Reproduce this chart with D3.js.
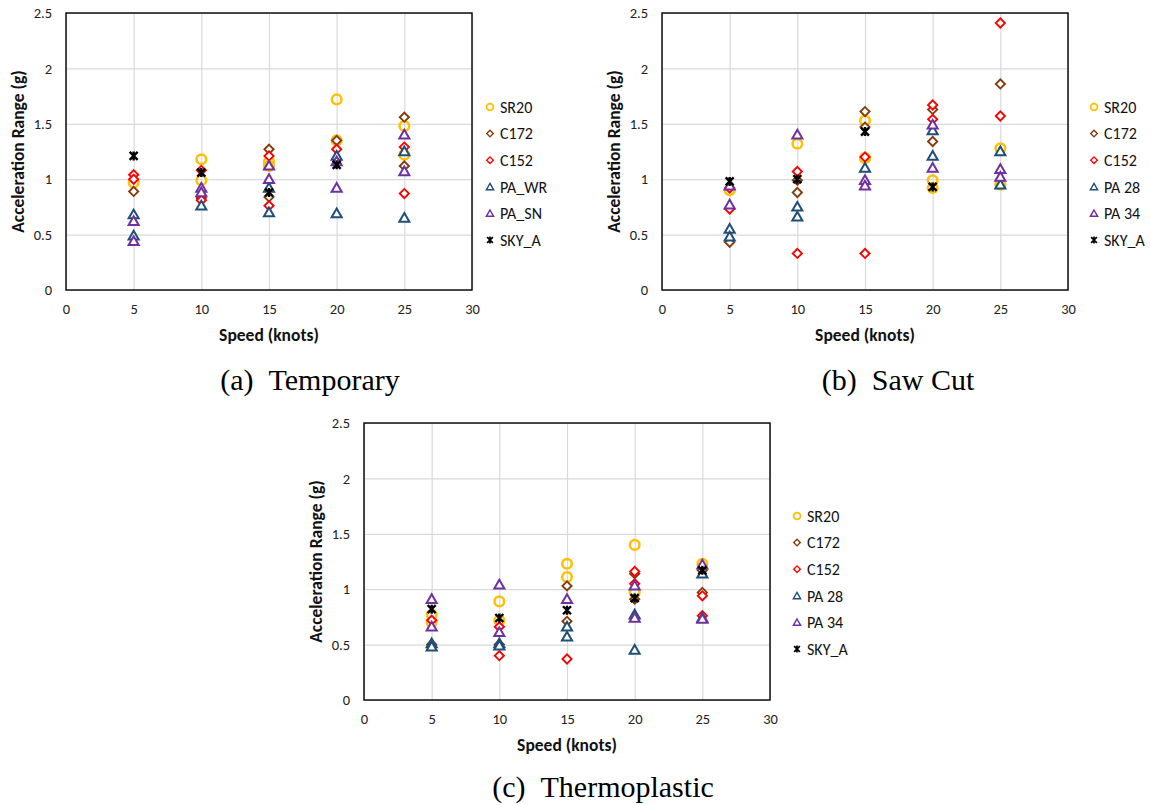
<!DOCTYPE html>
<html>
<head>
<meta charset="utf-8">
<script src="https://cdn.jsdelivr.net/npm/d3@7"></script>
<style>
  html, body { margin: 0; padding: 0; background: #fff; }
  svg { display: block; }
  .tick text { font-family: Carlito, Lato, "Open Sans", sans-serif; font-size: 14.5px; fill: #222; }
  .axis-title { font-family: Carlito, Lato, "Open Sans", sans-serif; font-size: 17.5px; font-weight: bold; fill: #111; }
  .legend text { font-family: Carlito, Lato, "Open Sans", sans-serif; font-size: 16px; fill: #111; }
  .caption { font-family: "Liberation Serif", "Times New Roman", serif; font-size: 30px; fill: #000; }
</style>
</head>
<body>
<svg id="chart" width="1150" height="805"></svg>
<script>
// Speeds tested (knots)
const speeds = [5, 10, 15, 20, 25];
const xTicks = [0, 5, 10, 15, 20, 25, 30];
const yTicks = [0, 0.5, 1, 1.5, 2, 2.5];

// Legend names
const seriesNamesTemporary = ["SR20", "C172", "C152", "PA_WR", "PA_SN", "SKY_A"];
const seriesNamesOther = ["SR20", "C172", "C152", "PA 28", "PA 34", "SKY_A"];

// Acceleration range (g), one list of runs per speed
// (a) Temporary marking
const tempSR20  = [[0.97], [1.18, 0.99], [1.16, 1.12], [1.72, 1.35], [1.48, 1.22]];
const tempC172  = [[0.89], [0.83], [1.27, 0.84], [1.35], [1.56, 1.12]];
const tempC152  = [[1.04, 1.00], [1.08, 0.81], [1.21, 0.76], [1.27], [1.29, 0.87]];
const tempPAWR  = [[0.68, 0.49], [0.76], [0.92, 0.70], [1.21, 0.69], [1.25, 0.65]];
const tempPASN  = [[0.62, 0.44], [0.92, 0.88], [1.12, 1.00], [1.16, 0.92], [1.40, 1.07]];
const tempSKYA  = [[1.21], [1.06], [0.88], [1.13], []];

// (b) Saw cut
const sawSR20   = [[0.90], [1.32], [1.53, 1.19], [0.99, 0.92], [1.28, 0.95]];
const sawC172   = [[0.43], [0.99, 0.88], [1.61, 1.47], [1.63, 1.34], [1.86]];
const sawC152   = [[0.92, 0.73], [1.07, 0.33], [1.20, 0.33], [1.67, 1.54], [2.41, 1.57]];
const sawPA28   = [[0.55, 0.48], [0.75, 0.66], [1.10], [1.44, 1.21], [1.25, 0.95]];
const sawPA34   = [[0.94, 0.77], [1.40], [0.99, 0.94], [1.49, 1.10], [1.09, 1.02]];
const sawSKYA   = [[0.98], [1.00], [1.43], [0.93], []];

// (c) Thermoplastic
const thermoSR20 = [[0.77, 0.70], [0.89, 0.72], [1.23, 1.11], [1.40, 0.97], [1.23]];
const thermoC172 = [[0.50], [0.50], [1.03, 0.71], [1.14, 0.91], [1.17, 0.97]];
const thermoC152 = [[0.72], [0.66, 0.40], [0.37], [1.16, 1.05], [0.94, 0.76]];
const thermoPA28 = [[0.51, 0.48], [0.51, 0.49], [0.66, 0.57], [0.77, 0.45], [1.14, 0.74]];
const thermoPA34 = [[0.91, 0.66], [1.04, 0.61], [0.91], [1.03, 0.74], [1.22, 0.73]];
const thermoSKYA = [[0.82], [0.74], [0.81], [0.92], [1.17]];

// Marker styles per series position
const styles = [
  { shape: "circle",   color: "#FFC000" },
  { shape: "diamond",  color: "#843C0C" },
  { shape: "diamond",  color: "#FF0000" },
  { shape: "triangle", color: "#1F4E79" },
  { shape: "triangle", color: "#7030A0" },
  { shape: "star",     color: "#000000" }
];

const panels = [
  { left: 66,  top: 13,  width: 406, height: 277, legendX: 490,  legendY: 107,
    names: seriesNamesTemporary, data: [tempSR20, tempC172, tempC152, tempPAWR, tempPASN, tempSKYA],
    caption: "(a)\u00a0\u00a0Temporary", captionX: 310, captionY: 390 },
  { left: 662, top: 13,  width: 406, height: 277, legendX: 1094, legendY: 107,
    names: seriesNamesOther, data: [sawSR20, sawC172, sawC152, sawPA28, sawPA34, sawSKYA],
    caption: "(b)\u00a0\u00a0Saw Cut", captionX: 898, captionY: 390 },
  { left: 364, top: 423, width: 406, height: 277, legendX: 797,  legendY: 516,
    names: seriesNamesOther, data: [thermoSR20, thermoC172, thermoC152, thermoPA28, thermoPA34, thermoSKYA],
    caption: "(c)\u00a0\u00a0Thermoplastic", captionX: 603, captionY: 797 }
];

const svg = d3.select("#chart");

function drawMarker(g, style, scale) {
  const c = style.color;
  if (style.shape === "circle") {
    g.append("circle").attr("r", 4.8 * scale).attr("fill", "none")
      .attr("stroke", c).attr("stroke-width", 2.5 * scale);
  } else if (style.shape === "diamond") {
    g.append("path").attr("d", d3.symbol(d3.symbolSquare, 42 * scale * scale)())
      .attr("transform", "rotate(45)").attr("fill", "#fff")
      .attr("stroke", c).attr("stroke-width", 1.9 * scale);
  } else if (style.shape === "triangle") {
    g.append("path").attr("d", d3.symbol(d3.symbolTriangle, 44 * scale * scale)())
      .attr("transform", "translate(0,0.8)").attr("fill", "#fff")
      .attr("stroke", c).attr("stroke-width", 2 * scale);
  } else {
    const r = 4 * scale;
    g.append("path")
      .attr("d", `M${-r},${-r}L${r},${r}M${-r},${r}L${r},${-r}M0,${-r - 0.5}V${r + 0.5}`)
      .attr("stroke", c).attr("stroke-width", 2.4 * scale).attr("fill", "none");
  }
}

panels.forEach(p => {
  const x = d3.scaleLinear().domain([0, 30]).range([p.left, p.left + p.width]);
  const y = d3.scaleLinear().domain([0, 2.5]).range([p.top + p.height, p.top]);
  const g = svg.append("g");

  // Gridlines
  g.append("g").attr("transform", `translate(${p.left},0)`)
    .call(d3.axisLeft(y).tickValues(yTicks).tickSize(-p.width).tickFormat(""))
    .call(a => a.select(".domain").remove())
    .call(a => a.selectAll("line").attr("stroke", "#d9d9d9").attr("stroke-width", 1.2));
  g.append("g").attr("transform", `translate(0,${p.top + p.height})`)
    .call(d3.axisBottom(x).tickValues(xTicks).tickSize(-p.height).tickFormat(""))
    .call(a => a.select(".domain").remove())
    .call(a => a.selectAll("line").attr("stroke", "#d9d9d9").attr("stroke-width", 1.2));

  // Tick labels
  g.append("g").attr("transform", `translate(${p.left - 5},0)`)
    .call(d3.axisLeft(y).tickValues(yTicks).tickSize(0).tickPadding(9).tickFormat(d3.format("")))
    .call(a => a.select(".domain").remove());
  g.append("g").attr("transform", `translate(0,${p.top + p.height + 5})`)
    .call(d3.axisBottom(x).tickValues(xTicks).tickSize(0).tickPadding(9))
    .call(a => a.select(".domain").remove());

  // Plot frame
  g.append("rect").attr("x", p.left).attr("y", p.top)
    .attr("width", p.width).attr("height", p.height)
    .attr("fill", "none").attr("stroke", "#000").attr("stroke-width", 1.4);

  // Axis titles
  g.append("text").attr("class", "axis-title")
    .attr("transform", `translate(${p.left - 48},${p.top + p.height / 2}) rotate(-90)`)
    .attr("text-anchor", "middle").attr("dy", "0.35em")
    .text("Acceleration Range (g)");
  g.append("text").attr("class", "axis-title")
    .attr("x", p.left + p.width / 2).attr("y", p.top + p.height + 51)
    .attr("text-anchor", "middle")
    .text("Speed (knots)");

  // Points
  p.data.forEach((series, si) => {
    const pts = [];
    series.forEach((runs, k) => runs.forEach(v => pts.push({ s: speeds[k], v })));
    g.append("g").selectAll("g").data(pts).join("g")
      .attr("transform", d => `translate(${x(d.s)},${y(d.v)})`)
      .each(function () { drawMarker(d3.select(this), styles[si], 1); });
  });

  // Legend
  const lg = g.append("g").attr("class", "legend");
  p.names.forEach((name, i) => {
    const row = lg.append("g").attr("transform", `translate(${p.legendX},${p.legendY + i * 26.6})`);
    drawMarker(row.append("g"), styles[i], 0.72);
    row.append("text").attr("x", 10).attr("dy", "0.36em").text(name);
  });

  // Caption
  svg.append("text").attr("class", "caption")
    .attr("x", p.captionX).attr("y", p.captionY)
    .attr("text-anchor", "middle").text(p.caption);
});
</script>
</body>
</html>
